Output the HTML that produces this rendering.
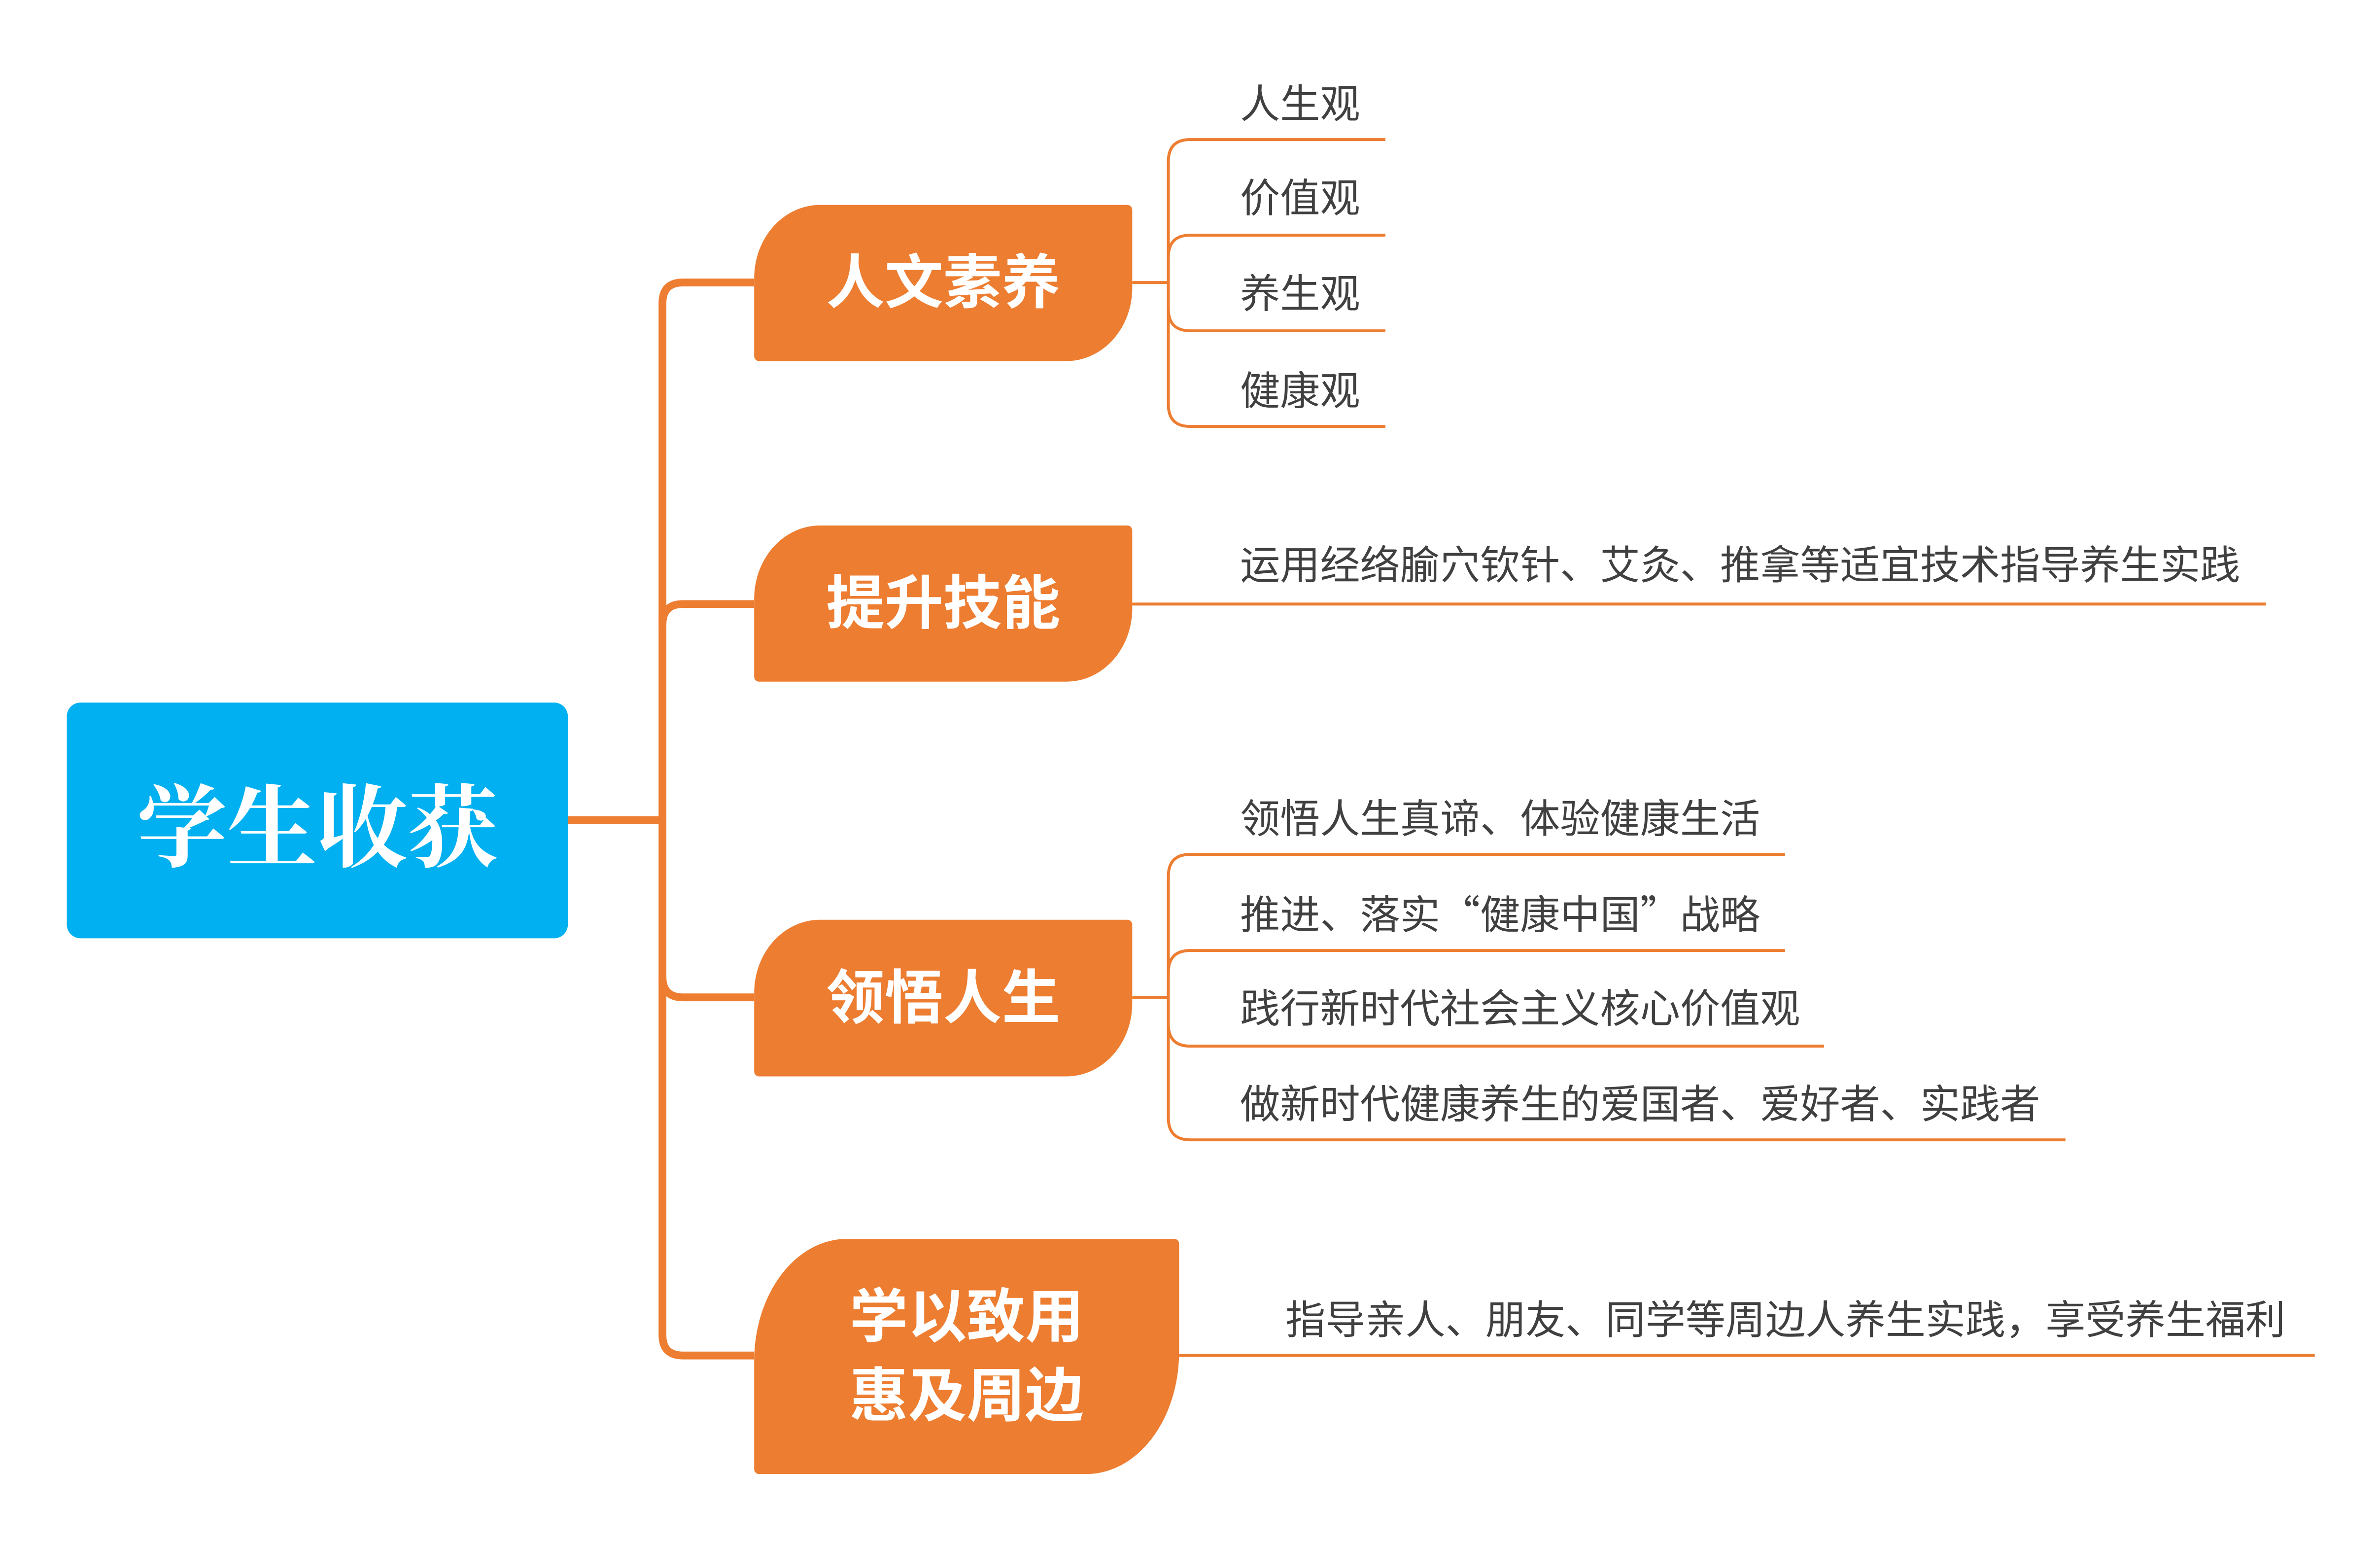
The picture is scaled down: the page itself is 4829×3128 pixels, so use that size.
<!DOCTYPE html>
<html><head><meta charset="utf-8"><style>
html,body{margin:0;padding:0;background:#fff;}
body{width:4829px;height:3128px;position:relative;overflow:hidden;}
#w{position:absolute;left:0;top:0;width:4829px;height:3128px;transform:scale(0.9898);transform-origin:0 0;}
.b{position:absolute;background:#ed7d31;color:#fff;font-family:"Liberation Sans","Noto Sans CJK SC",sans-serif;font-weight:bold;font-size:120px;display:flex;align-items:center;justify-content:center;text-align:center;line-height:1.35;}
.t{position:absolute;font-family:"Liberation Sans","Noto Sans CJK SC",sans-serif;font-size:82px;color:#404040;white-space:nowrap;line-height:1;transform:translateY(-50%);}
.q{font-family:"Noto Sans CJK SC",sans-serif;}
</style></head><body><div id="w">
<svg width="4829" height="3128" style="position:absolute;left:0;top:0" fill="none">
<g stroke="#ed7d31" stroke-width="16" stroke-linecap="butt">
<path d="M1164 1681 H1358"/>
<path d="M1546 579 H1400 Q1358 579 1358 621 V2736 Q1358 2778 1400 2778 H1546"/>
<path d="M1358 1280 Q1358 1238 1400 1238 H1546"/>
<path d="M1358 2002 Q1358 2044 1400 2044 H1546"/>
</g>
<g stroke="#ed7d31" stroke-width="6">
<path d="M2321 579 H2395"/>
<path d="M2840 286 H2440 Q2395 286 2395 331 V829 Q2395 874 2440 874 H2840"/>
<path d="M2395 527 Q2395 482 2440 482 H2840"/>
<path d="M2395 633 Q2395 678 2440 678 H2840"/>
<path d="M2321 1238 H4645"/>
<path d="M2321 2044 H2395"/>
<path d="M3659 1751 H2440 Q2395 1751 2395 1796 V2291 Q2395 2336 2440 2336 H4234"/>
<path d="M2395 1993 Q2395 1948 2440 1948 H3659"/>
<path d="M2395 2099 Q2395 2144 2440 2144 H3739"/>
<path d="M2417 2778 H4745"/>
</g>
</svg>
<div style="position:absolute;left:137px;top:1440px;width:1027px;height:483px;background:#00b0f0;border-radius:28px;display:flex;align-items:center;justify-content:center;color:#fff;font-family:'Liberation Serif','Noto Serif CJK SC',serif;font-weight:bold;font-size:185px;">学生收获</div>
<div class="b" style="left:1546px;top:420px;width:775px;height:320px;border-radius:135px 10px 135px 10px / 150px 10px 150px 10px;">人文素养</div>
<div class="b" style="left:1546px;top:1077px;width:775px;height:320px;border-radius:135px 10px 135px 10px / 150px 10px 150px 10px;">提升技能</div>
<div class="b" style="left:1546px;top:1885px;width:775px;height:321px;border-radius:135px 10px 135px 10px / 150px 10px 150px 10px;">领悟人生</div>
<div class="b" style="left:1546px;top:2539px;width:871px;height:482px;border-radius:190px 10px 190px 10px / 250px 10px 250px 10px;">学以致用<br>惠及周边</div>
<div class="t" style="left:2542px;top:215px">人生观</div>
<div class="t" style="left:2542px;top:408px">价值观</div>
<div class="t" style="left:2542px;top:604px">养生观</div>
<div class="t" style="left:2542px;top:803px">健康观</div>
<div class="t" style="left:2542px;top:1160px">运用经络腧穴钦针、艾灸、推拿等适宜技术指导养生实践</div>
<div class="t" style="left:2542px;top:1680px">领悟人生真谛、体验健康生活</div>
<div class="t" style="left:2542px;top:1873px">推进、落实<span class="q">“</span>健康中国<span class="q">”</span>战略</div>
<div class="t" style="left:2542px;top:2069px">践行新时代社会主义核心价值观</div>
<div class="t" style="left:2542px;top:2265px">做新时代健康养生的爱国者、爱好者、实践者</div>
<div class="t" style="left:2635px;top:2707px">指导亲人、朋友、同学等周边人养生实践，享受养生福利</div>
</div></body></html>
